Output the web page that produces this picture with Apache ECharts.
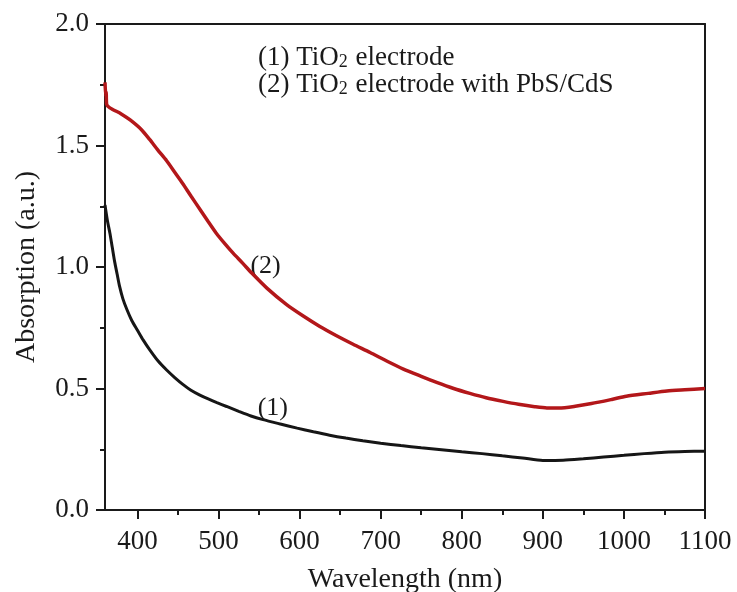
<!DOCTYPE html>
<html>
<head>
<meta charset="utf-8">
<script src="https://cdn.jsdelivr.net/npm/echarts@6/dist/echarts.min.js"></script>
<style>
  html, body { margin: 0; padding: 0; background: #fff; }
  #chart { width: 737px; height: 592px; }
</style>
</head>
<body>
<div id="chart"></div>
<script>
    // 曲线 (1): TiO2 electrode
    let wl1 = [360, 363, 366, 369, 372, 375, 378, 382, 387, 393, 400, 407, 415, 425, 436, 446, 456, 466, 477, 488, 498,
        510, 525, 540, 555, 575, 597, 617, 637, 657, 678, 700, 725, 750, 775, 800, 825, 850, 875, 900, 925, 950,
        975, 1000, 1025, 1050, 1075, 1100];
    let abs1 = [1.255, 1.19, 1.14, 1.08, 1.02, 0.97, 0.92, 0.87, 0.825, 0.78, 0.74, 0.70, 0.66, 0.615, 0.576, 0.545, 0.517,
        0.493, 0.473, 0.456, 0.442, 0.426, 0.406, 0.387, 0.372, 0.355, 0.337, 0.322, 0.308, 0.296, 0.285, 0.275, 0.265,
        0.256, 0.248, 0.24, 0.232, 0.223, 0.214, 0.204, 0.205, 0.211, 0.218, 0.225, 0.232, 0.238, 0.241, 0.242];

    // 曲线 (2): TiO2 electrode with PbS/CdS
    let wl2 = [360, 361, 361.5, 362, 366, 380, 391, 405, 415, 425, 436, 446, 456, 466, 477, 487, 497, 508, 518, 530,
        541, 560, 584, 605, 625, 645, 666, 687, 708, 728, 750, 769, 790, 810, 830, 851, 870, 890, 905, 920, 940,
        960, 985, 1003, 1030, 1053, 1075, 1100];
    let abs2 = [1.76, 1.70, 1.72, 1.67, 1.655, 1.63, 1.605, 1.565, 1.525, 1.482, 1.437, 1.39, 1.343, 1.292, 1.238, 1.188,
        1.14, 1.095, 1.057, 1.015, 0.975, 0.912, 0.845, 0.797, 0.755, 0.718, 0.682, 0.648, 0.612, 0.58, 0.55, 0.525,
        0.50, 0.48, 0.462, 0.447, 0.435, 0.425, 0.42, 0.42, 0.427, 0.438, 0.455, 0.468, 0.48, 0.49, 0.495, 0.50];

    // 坐标轴刻度
    let xMajor = [400, 500, 600, 700, 800, 900, 1000, 1100];
    let xMinor = [450, 550, 650, 750, 850, 950, 1050];

    // 曲线旁的编号标注
    let noteNames = ['(2)', '(1)'];
    let noteX = [558, 567];
    let noteY = [1.005, 0.42];

    let font = '"Liberation Serif", "Times New Roman", serif';
    let ink = '#1a1a1a';

    function toPairs(xs, ys) {
        return xs.map((x, i) => [x, ys[i]]);
    }

    let chart = echarts.init(document.getElementById('chart'));

    let option = {
        backgroundColor: '#fff',
        animation: false,
        grid: { left: 105, right: 32, top: 24, bottom: 82, outerBoundsMode: 'none', containLabel: false },
        xAxis: [
            {
                type: 'value', min: 360, max: 1100, position: 'bottom',
                name: 'Wavelength (nm)', nameLocation: 'middle', nameGap: 56,
                nameTextStyle: { fontFamily: font, fontSize: 28, color: ink },
                axisLine: { show: true, lineStyle: { color: ink, width: 2 } },
                axisTick: { show: true, customValues: xMajor, length: 9, lineStyle: { color: ink, width: 2 } },
                axisLabel: {
                    customValues: xMajor, fontFamily: font, fontSize: 27, color: ink, margin: 18,
                    formatter: v => String(v)
                },
                splitLine: { show: false }
            },
            {
                // 次刻度
                type: 'value', min: 360, max: 1100, position: 'bottom',
                axisLine: { show: false },
                axisTick: { show: true, customValues: xMinor, length: 5, lineStyle: { color: ink, width: 2 } },
                axisLabel: { show: false },
                splitLine: { show: false }
            },
            {
                // 上边框
                type: 'value', min: 360, max: 1100, position: 'top',
                axisLine: { show: true, onZero: false, lineStyle: { color: ink, width: 2 } },
                axisTick: { show: false },
                axisLabel: { show: false },
                splitLine: { show: false }
            }
        ],
        yAxis: [
            {
                type: 'value', min: 0, max: 2, interval: 0.5, position: 'left',
                name: 'Absorption (a.u.)', nameLocation: 'middle', nameGap: 64,
                nameTextStyle: { fontFamily: font, fontSize: 28, color: ink },
                axisLine: { show: true, onZero: false, lineStyle: { color: ink, width: 2 } },
                axisTick: { show: true, length: 9, lineStyle: { color: ink, width: 2 } },
                minorTick: { show: true, splitNumber: 2, length: 5, lineStyle: { color: ink, width: 2 } },
                axisLabel: {
                    fontFamily: font, fontSize: 27, color: ink, margin: 16,
                    formatter: v => v.toFixed(1)
                },
                splitLine: { show: false }
            },
            {
                // 右边框
                type: 'value', min: 0, max: 2, position: 'right',
                axisLine: { show: true, onZero: false, lineStyle: { color: ink, width: 2 } },
                axisTick: { show: false },
                axisLabel: { show: false },
                splitLine: { show: false }
            }
        ],
        graphic: [
            {
                type: 'text', left: 258, top: 41,
                style: {
                    text: '(1) TiO{sub|2} electrode\n(2) TiO{sub|2} electrode with PbS/CdS',
                    font: '27px ' + font,
                    fill: ink,
                    lineHeight: 27,
                    rich: {
                        sub: { fontSize: 18, fontFamily: font, fill: ink, verticalAlign: 'bottom', lineHeight: 27, padding: [12, 1, 0, 0] }
                    }
                }
            }
        ],
        series: [
            {
                name: 'TiO2 electrode', type: 'line', xAxisIndex: 0, yAxisIndex: 0,
                data: toPairs(wl1, abs1), showSymbol: false, smooth: 0.25,
                lineStyle: { color: '#161616', width: 3 }
            },
            {
                name: 'TiO2 electrode with PbS/CdS', type: 'line', xAxisIndex: 0, yAxisIndex: 0,
                data: toPairs(wl2, abs2), showSymbol: false, smooth: 0.25,
                lineStyle: { color: '#b3171a', width: 3.5 }
            },
            {
                name: 'notes', type: 'scatter', xAxisIndex: 0, yAxisIndex: 0,
                symbolSize: 1, itemStyle: { color: 'rgba(0,0,0,0)', opacity: 1 },
                data: noteNames.map((n, i) => ({ name: n, value: [noteX[i], noteY[i]] })),
                label: {
                    show: true, position: 'inside', formatter: p => p.name,
                    fontFamily: font, fontSize: 26, color: ink, opacity: 1
                }
            }
        ]
    };

    chart.setOption(option);
</script>
</body>
</html>
